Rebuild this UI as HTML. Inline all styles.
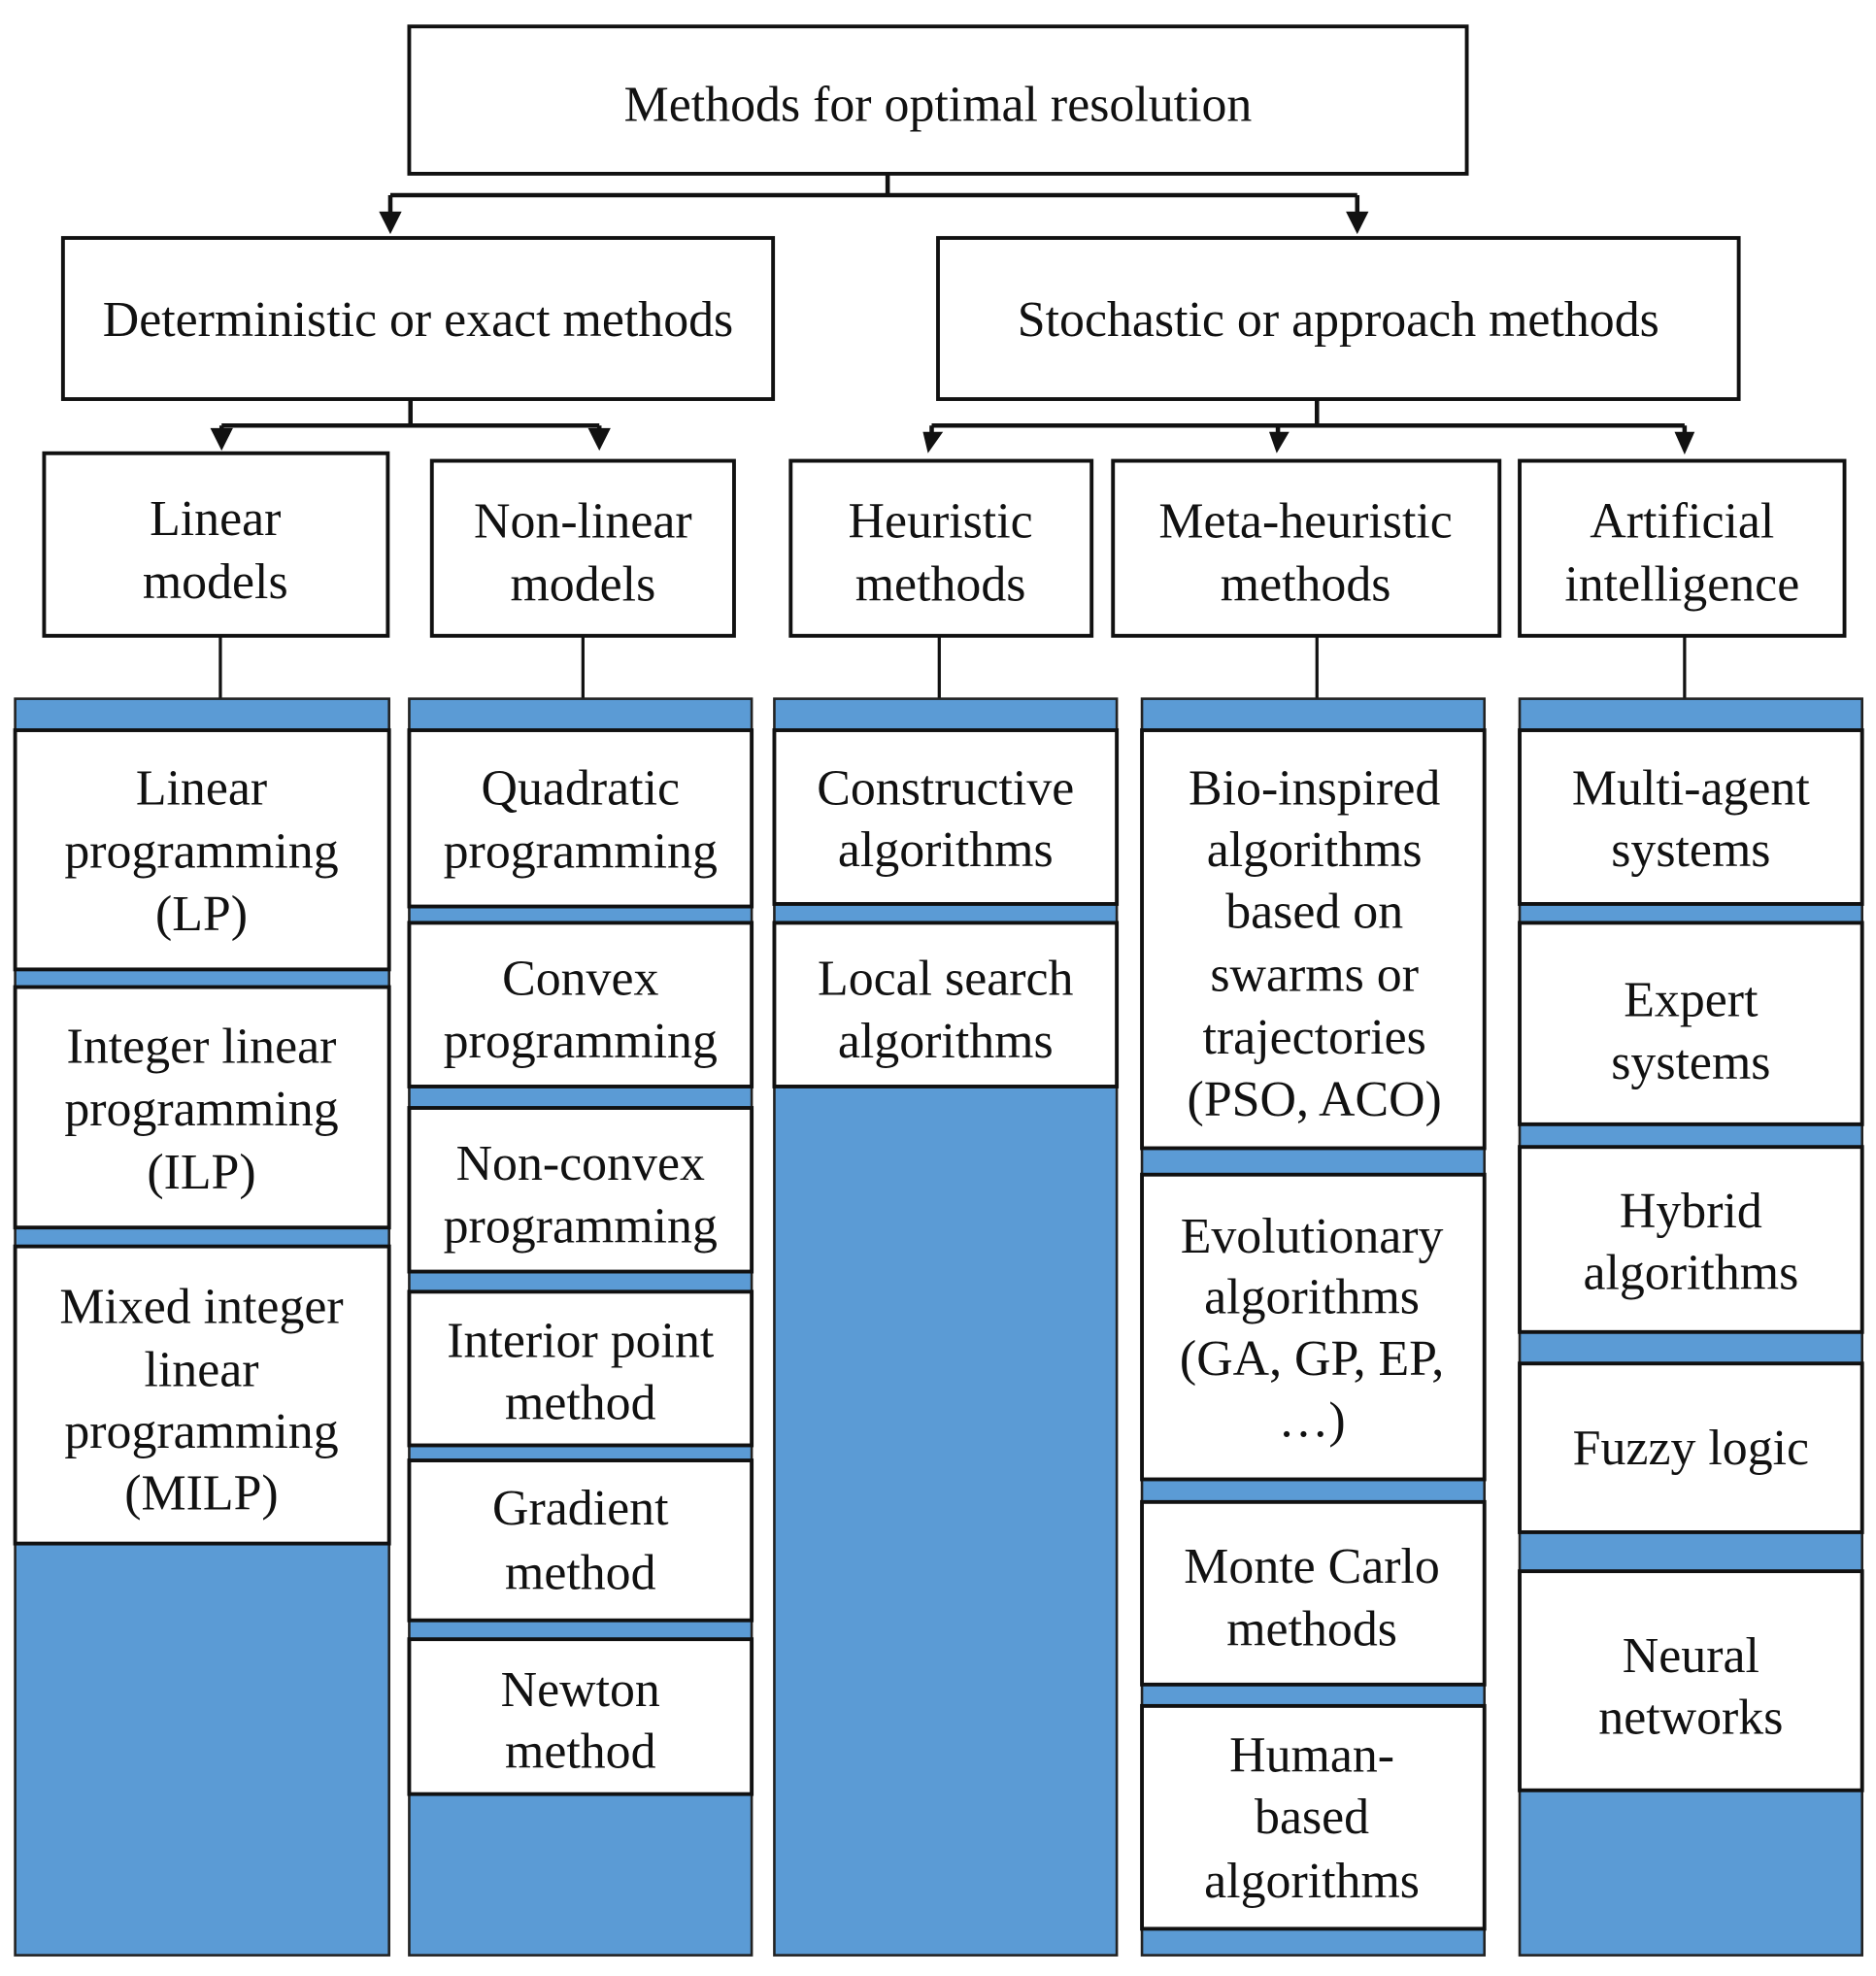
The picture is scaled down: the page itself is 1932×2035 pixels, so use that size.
<!DOCTYPE html>
<html><head><meta charset="utf-8"><style>
html,body{margin:0;padding:0;background:#fff;}
svg{display:block;}
text{font-family:"Liberation Serif",serif;font-size:40px;fill:#111;text-anchor:middle;}
</style></head><body>
<svg width="1932" height="2035" viewBox="0 0 1490 1569.5" xmlns="http://www.w3.org/2000/svg">
<g fill="none" stroke="#111" stroke-width="3">
<rect x="325" y="21" width="840" height="117" fill="#fff"/>
<rect x="50" y="189" width="564" height="128" fill="#fff"/>
<rect x="745" y="189" width="636" height="128" fill="#fff"/>
<rect x="35" y="360" width="273" height="145" fill="#fff"/>
<rect x="343" y="366" width="240" height="139" fill="#fff"/>
<rect x="628" y="366" width="239" height="139" fill="#fff"/>
<rect x="884" y="366" width="307" height="139" fill="#fff"/>
<rect x="1207" y="366" width="258" height="139" fill="#fff"/>
<path d="M705 138V155M310 155H1078M310 155V178M1078 155V178" stroke-width="3.5"/>
<path d="M326 317V338M176 338H476M176 338V350M476 338V350" stroke-width="3.5"/>
<path d="M1046 317V338M740 338H1338M740 338V350M1015 338V350M1338 338V350" stroke-width="3.5"/>
<path d="M175 505V555M463 505V555M746 505V555M1046 505V555M1338 505V555" stroke-width="2.5"/>
</g>
<g fill="#111">
<path d="M301 168h18l-9 18z"/><path d="M1069 168h18l-9 18z"/>
<path d="M167 340h18l-9 18z"/><path d="M467 340h18l-9 18z"/>
<path d="M733 343h16l-12 17z"/><path d="M1008 343h16l-10 17z"/><path d="M1330 343h16l-8 18z"/>
</g>
<g fill="#5b9bd5" stroke="#222" stroke-width="2">
<rect x="12" y="555" width="297" height="998"/>
<rect x="325" y="555" width="272" height="998"/>
<rect x="615" y="555" width="272" height="998"/>
<rect x="907" y="555" width="272" height="998"/>
<rect x="1207" y="555" width="272" height="998"/>
</g>
<g fill="#fff" stroke="#111" stroke-width="3">
<rect x="12" y="580" width="297" height="190"/>
<rect x="12" y="784" width="297" height="191"/>
<rect x="12" y="990" width="297" height="236"/>
<rect x="325" y="580" width="272" height="140"/>
<rect x="325" y="733" width="272" height="130"/>
<rect x="325" y="880" width="272" height="130"/>
<rect x="325" y="1026" width="272" height="122"/>
<rect x="325" y="1160" width="272" height="127"/>
<rect x="325" y="1302" width="272" height="123"/>
<rect x="615" y="580" width="272" height="138"/>
<rect x="615" y="733" width="272" height="130"/>
<rect x="907" y="580" width="272" height="332"/>
<rect x="907" y="933" width="272" height="242"/>
<rect x="907" y="1193" width="272" height="145"/>
<rect x="907" y="1355" width="272" height="177"/>
<rect x="1207" y="580" width="272" height="138"/>
<rect x="1207" y="733" width="272" height="160"/>
<rect x="1207" y="911" width="272" height="147"/>
<rect x="1207" y="1083" width="272" height="134"/>
<rect x="1207" y="1248" width="272" height="174"/>
</g>
<text x="745" y="96">Methods for optimal resolution</text>
<text x="332" y="267">Deterministic or exact methods</text>
<text x="1063" y="267">Stochastic or approach methods</text>
<text x="171" y="425">Linear</text><text x="171" y="475">models</text>
<text x="463" y="427">Non-linear</text><text x="463" y="477">models</text>
<text x="747" y="427">Heuristic</text><text x="747" y="477">methods</text>
<text x="1037" y="427">Meta-heuristic</text><text x="1037" y="477">methods</text>
<text x="1336" y="427">Artificial</text><text x="1336" y="477">intelligence</text>

<text x="160" y="639">Linear</text><text x="160" y="689">programming</text><text x="160" y="739">(LP)</text>
<text x="160" y="844">Integer linear</text><text x="160" y="894">programming</text><text x="160" y="944">(ILP)</text>
<text x="160" y="1051">Mixed integer</text><text x="160" y="1101">linear</text><text x="160" y="1150">programming</text><text x="160" y="1199">(MILP)</text>

<text x="461" y="639">Quadratic</text><text x="461" y="689">programming</text>
<text x="461" y="790">Convex</text><text x="461" y="840">programming</text>
<text x="461" y="937">Non-convex</text><text x="461" y="987">programming</text>
<text x="461" y="1078">Interior point</text><text x="461" y="1127">method</text>
<text x="461" y="1211">Gradient</text><text x="461" y="1262">method</text>
<text x="461" y="1355">Newton</text><text x="461" y="1404">method</text>

<text x="751" y="639">Constructive</text><text x="751" y="688">algorithms</text>
<text x="751" y="790">Local search</text><text x="751" y="840">algorithms</text>

<text x="1044" y="639">Bio-inspired</text><text x="1044" y="688">algorithms</text><text x="1044" y="737">based on</text><text x="1044" y="787">swarms or</text><text x="1044" y="837">trajectories</text><text x="1044" y="886">(PSO, ACO)</text>
<text x="1042" y="995">Evolutionary</text><text x="1042" y="1043">algorithms</text><text x="1042" y="1092">(GA, GP, EP,</text><text x="1042" y="1141">…)</text>
<text x="1042" y="1257">Monte Carlo</text><text x="1042" y="1307">methods</text>
<text x="1042" y="1407">Human-</text><text x="1042" y="1456">based</text><text x="1042" y="1507">algorithms</text>

<text x="1343" y="639">Multi-agent</text><text x="1343" y="688">systems</text>
<text x="1343" y="807">Expert</text><text x="1343" y="857">systems</text>
<text x="1343" y="975">Hybrid</text><text x="1343" y="1024">algorithms</text>
<text x="1343" y="1163">Fuzzy logic</text>
<text x="1343" y="1328">Neural</text><text x="1343" y="1377">networks</text>
</svg>
</body></html>
